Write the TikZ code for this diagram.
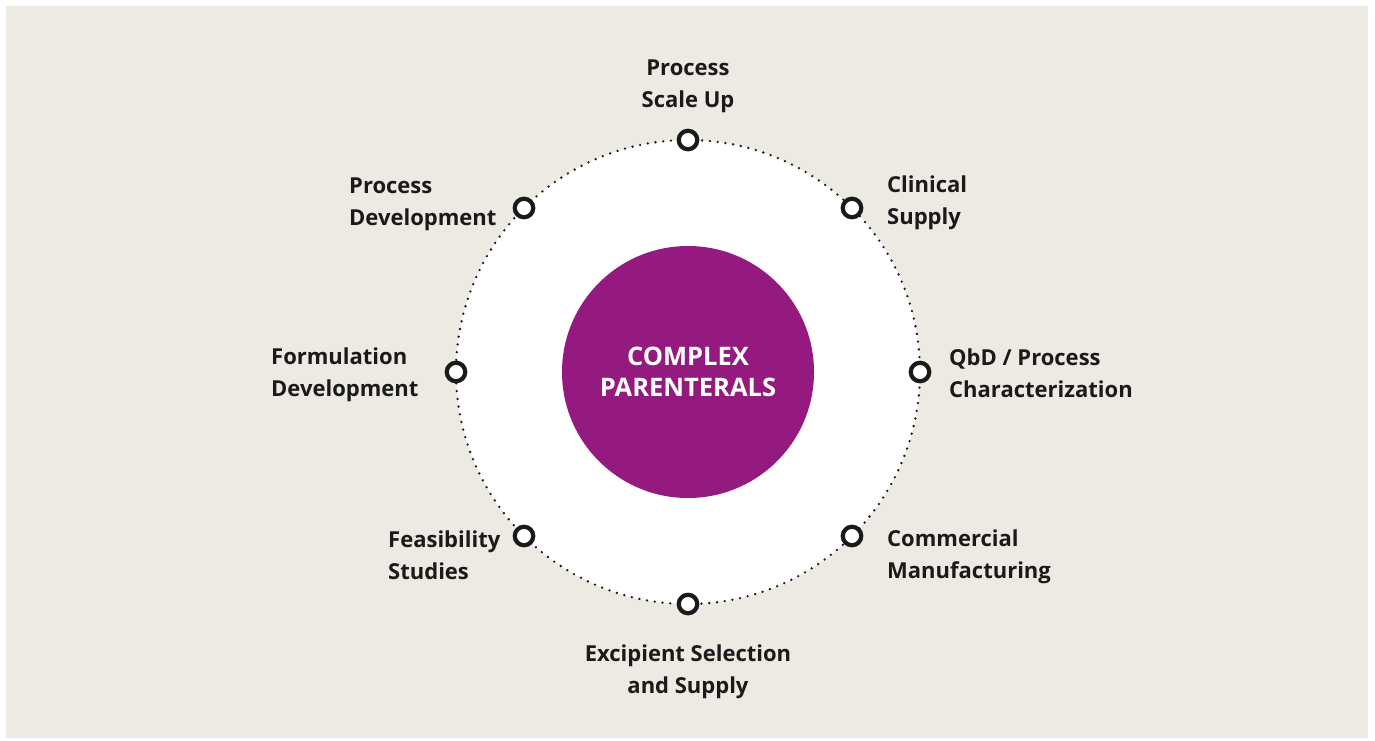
\documentclass[tikz,border=0pt]{standalone}
\usepackage{fontspec}
\setmainfont{Open Sans}
\definecolor{bg}{HTML}{EDEAE4}
\definecolor{purp}{HTML}{951A80}
\definecolor{ink}{HTML}{1A1A1A}
\tikzset{
  lbl/.style={font=\bfseries\fontsize{22}{32}\selectfont, text=ink, inner sep=0pt},
  stop/.style={circle, draw=ink, line width=4.2pt, fill=white, minimum size=18.5pt, inner sep=0pt},
}
\begin{document}
\begin{tikzpicture}[x=1pt,y=-1pt]
\useasboundingbox (0,0) rectangle (1375,740);
\fill[white] (0,0) rectangle (1375,740);
\fill[bg] (6,6) rectangle (1368,738);
\coordinate (c) at (688,372);
\fill[white] (c) circle (232);
\draw[ink, line width=2.6pt, line cap=round, dash pattern=on 0pt off 7.8pt] (c) circle (232);
\node[circle, fill=purp, minimum size=252pt, inner sep=0pt, align=center, text=white, font=\bfseries\fontsize{25.5}{31}\selectfont] (core) at (c) {COMPLEX\\PARENTERALS};
\node[stop] (n90) at (688,140) {};
\node[stop] (n45) at (852,208) {};
\node[stop] (n0) at (920,372) {};
\node[stop] (n315) at (852,536) {};
\node[stop] (n270) at (688,604) {};
\node[stop] (n225) at (524,536) {};
\node[stop] (n180) at (456,372) {};
\node[stop] (n135) at (524,208) {};
\node[lbl, align=center, anchor=south] (l90) at (688,113) {Process\\Scale Up};
\node[lbl, align=left, anchor=west] (l45) at (887,203) {Clinical\\Supply};
\node[lbl, align=left, anchor=west] (l0) at (949,373) {QbD / Process\\Characterization};
\node[lbl, align=left, anchor=west] (l315) at (887,557) {Commercial\\Manufacturing};
\node[lbl, align=center, anchor=north] (l270) at (688,645) {Excipient Selection\\and Supply};
\node[lbl, align=left, anchor=west] (l225) at (388,555) {Feasibility\\Studies};
\node[lbl, align=left, anchor=west] (l180) at (271,375) {Formulation\\Development};
\node[lbl, align=left, anchor=west] (l135) at (349,204) {Process\\Development};
\end{tikzpicture}
\end{document}
